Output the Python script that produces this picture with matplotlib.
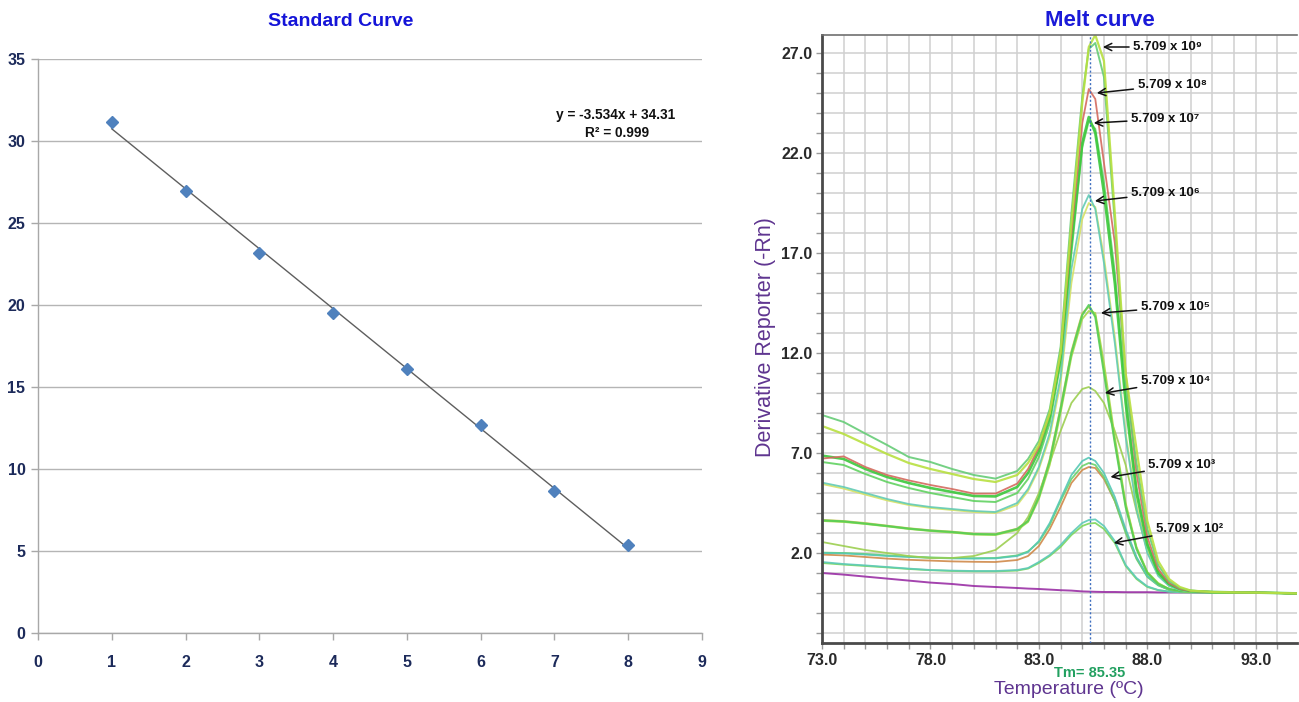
import matplotlib
matplotlib.use("Agg")
import matplotlib.pyplot as plt
from matplotlib.ticker import MultipleLocator, FixedLocator, FormatStrFormatter
import numpy as np

# ---------------- Standard curve data ----------------
std_x = [1, 2, 3, 4, 5, 6, 7, 8]
std_ct = [31.15, 26.95, 23.2, 19.5, 16.1, 12.7, 8.65, 5.35]
std_eq = "y = -3.534x + 34.31"
std_r2 = "R² = 0.999"

# ---------------- Melt curve data ----------------
temps = [73, 74, 75, 76, 77, 78, 79, 80, 81, 82, 82.5, 83, 83.5, 84, 84.5, 85, 85.3, 85.6,
         86, 86.5, 87, 87.5, 88, 88.5, 89, 89.5, 90, 91, 92, 93, 94, 94.9]

melt_1e9_a = [8.9, 8.55, 7.97, 7.4, 6.8, 6.55, 6.2, 5.9, 5.72, 6.1, 6.7, 7.6, 9.2, 12.3, 19.0, 24.8, 27.2, 27.5,
              25.8, 18.5, 10.5, 6.5, 3.2, 1.4, 0.6, 0.25, 0.12, 0.05, 0.03, 0.02, 0.0, -0.02]
melt_1e9_b = [8.35, 7.95, 7.45, 6.95, 6.5, 6.2, 5.95, 5.7, 5.55, 5.9, 6.5, 7.4, 9.0, 12.0, 18.5, 24.5, 27.3, 27.9,
              26.6, 19.0, 11.0, 7.2, 3.6, 1.6, 0.7, 0.3, 0.12, 0.05, 0.03, 0.02, 0.0, -0.02]
melt_1e8 = [6.72, 6.83, 6.3, 5.9, 5.63, 5.4, 5.2, 4.97, 4.97, 5.47, 6.2, 7.3, 9.0, 12.0, 18.0, 23.5, 25.2, 24.7,
            21.5, 17.5, 11.0, 6.0, 2.8, 1.2, 0.5, 0.2, 0.1, 0.05, 0.03, 0.02, 0.0, -0.02]
melt_1e7_a = [6.87, 6.7, 6.2, 5.8, 5.5, 5.25, 5.05, 4.85, 4.83, 5.3, 6.0, 7.1, 8.8, 11.8, 17.5, 22.5, 23.8, 23.0,
              20.0, 15.5, 9.5, 5.0, 2.4, 1.0, 0.45, 0.2, 0.1, 0.05, 0.03, 0.02, 0.0, -0.02]
melt_1e7_b = [6.55, 6.4, 5.95, 5.55, 5.25, 5.0, 4.8, 4.6, 4.55, 5.0, 5.7, 6.8, 8.5, 11.5, 17.0, 22.3, 23.6, 23.2,
              20.5, 16.0, 10.0, 5.3, 2.5, 1.1, 0.45, 0.2, 0.1, 0.05, 0.03, 0.02, 0.0, -0.02]
melt_1e6_a = [5.52, 5.3, 5.0, 4.7, 4.45, 4.3, 4.2, 4.1, 4.05, 4.5, 5.2, 6.3, 8.0, 10.8, 16.2, 19.2, 19.9, 19.2,
              16.5, 12.5, 7.8, 4.2, 2.0, 0.85, 0.35, 0.15, 0.08, 0.04, 0.02, 0.01, 0.0, -0.02]
melt_1e6_b = [5.45, 5.22, 4.92, 4.63, 4.4, 4.25, 4.15, 4.05, 4.0, 4.4, 5.1, 6.2, 7.8, 10.5, 15.5, 18.7, 19.5, 19.3,
              16.8, 12.8, 8.0, 4.4, 2.1, 0.9, 0.38, 0.16, 0.08, 0.04, 0.02, 0.01, 0.0, -0.02]
melt_1e5_a = [3.63, 3.58, 3.47, 3.35, 3.22, 3.12, 3.05, 2.95, 2.93, 3.2, 3.6, 4.8, 6.6, 9.2, 12.0, 13.9, 14.4, 13.8,
              11.0, 7.5, 4.3, 2.2, 1.0, 0.45, 0.2, 0.1, 0.06, 0.04, 0.02, 0.01, 0.0, -0.02]
melt_1e5_b = [3.6, 3.55, 3.45, 3.33, 3.2, 3.1, 3.02, 2.92, 2.9, 3.15, 3.55, 4.7, 6.4, 9.0, 11.8, 13.7, 14.1, 14.0,
              11.5, 7.8, 4.5, 2.3, 1.05, 0.5, 0.2, 0.1, 0.06, 0.04, 0.02, 0.01, 0.0, -0.02]
melt_1e5_c = [3.66, 3.6, 3.5, 3.37, 3.24, 3.14, 3.07, 2.97, 2.95, 3.22, 3.62, 4.85, 6.7, 9.3, 12.1, 14.0, 14.3, 13.9,
              11.2, 7.6, 4.4, 2.25, 1.02, 0.46, 0.2, 0.1, 0.06, 0.04, 0.02, 0.01, 0.0, -0.02]
melt_1e4 = [2.55, 2.35, 2.15, 2.0, 1.85, 1.75, 1.75, 1.85, 2.15, 3.0, 3.8, 5.0, 6.5, 8.1, 9.5, 10.2, 10.3, 10.1,
            9.5, 8.1, 6.4, 4.1, 2.1, 1.0, 0.4, 0.15, 0.08, 0.04, 0.02, 0.01, 0.0, -0.02]
melt_1e3_a = [2.0, 1.98, 1.92, 1.85, 1.8, 1.76, 1.73, 1.72, 1.73, 1.85, 2.05, 2.6, 3.5, 4.7, 5.9, 6.6, 6.77, 6.6,
              6.0, 4.8, 3.2, 1.8, 0.85, 0.4, 0.17, 0.08, 0.05, 0.03, 0.02, 0.01, 0.0, -0.02]
melt_1e3_b = [1.92, 1.88, 1.8, 1.72, 1.66, 1.62, 1.58, 1.56, 1.55, 1.65, 1.85, 2.35, 3.2, 4.3, 5.5, 6.15, 6.3, 6.25,
              5.7, 4.6, 3.1, 1.75, 0.85, 0.4, 0.17, 0.08, 0.05, 0.03, 0.02, 0.01, 0.0, -0.02]
melt_1e3_c = [2.02, 2.0, 1.95, 1.88, 1.82, 1.78, 1.75, 1.74, 1.75, 1.88, 2.08, 2.55, 3.4, 4.6, 5.7, 6.35, 6.5, 6.4,
              5.8, 4.6, 3.0, 1.7, 0.8, 0.38, 0.16, 0.08, 0.05, 0.03, 0.02, 0.01, 0.0, -0.02]
melt_1e2_a = [1.55, 1.45, 1.38, 1.3, 1.22, 1.15, 1.12, 1.1, 1.1, 1.15, 1.25, 1.55, 1.9, 2.4, 3.0, 3.5, 3.65, 3.68,
              3.35, 2.6, 1.4, 0.75, 0.33, 0.15, 0.07, 0.04, 0.03, 0.02, 0.01, 0.0, 0.0, -0.02]
melt_1e2_b = [1.5, 1.42, 1.35, 1.28, 1.2, 1.14, 1.1, 1.08, 1.08, 1.12, 1.22, 1.5, 1.85, 2.3, 2.9, 3.35, 3.47, 3.5,
              3.2, 2.5, 1.35, 0.7, 0.3, 0.14, 0.07, 0.04, 0.03, 0.02, 0.01, 0.0, 0.0, -0.02]
melt_ntc = [1.0, 0.92, 0.82, 0.72, 0.62, 0.52, 0.45, 0.35, 0.3, 0.25, 0.22, 0.2, 0.17, 0.14, 0.12, 0.08, 0.07, 0.06,
            0.05, 0.05, 0.04, 0.04, 0.04, 0.03, 0.03, 0.03, 0.03, 0.02, 0.02, 0.01, 0.0, -0.02]

tm_value = 85.35
tm_label = "Tm= 85.35"
ann_labels = ["5.709 x 10⁹", "5.709 x 10⁸", "5.709 x 10⁷", "5.709 x 10⁶",
              "5.709 x 10⁵", "5.709 x 10⁴", "5.709 x 10³", "5.709 x 10²"]

# series list: (values, colour, linewidth)
series = [
    (melt_ntc, "#9a2fa5", 1.4),
    (melt_1e2_b, "#7dd65a", 1.3),
    (melt_1e2_a, "#5ccab8", 1.3),
    (melt_1e3_b, "#d08a4a", 1.3),
    (melt_1e3_c, "#6ad36a", 1.3),
    (melt_1e3_a, "#55c8b5", 1.3),
    (melt_1e4, "#9ccf50", 1.3),
    (melt_1e5_c, "#d2c45c", 1.3),
    (melt_1e5_b, "#a8d848", 1.3),
    (melt_1e5_a, "#55cf55", 1.5),
    (melt_1e6_b, "#d5e265", 1.3),
    (melt_1e6_a, "#62cbb5", 1.3),
    (melt_1e7_b, "#62d262", 1.4),
    (melt_1e7_a, "#3cc83c", 1.9),
    (melt_1e8, "#d46a5e", 1.3),
    (melt_1e9_a, "#66cc77", 1.4),
    (melt_1e9_b, "#b8e040", 1.6),
]

W, H = 1299, 702
fig = plt.figure(figsize=(W / 100, H / 100), dpi=100)

narrow = ["Liberation Sans Narrow", "Liberation Sans", "DejaVu Sans"]
arial = ["Liberation Sans", "DejaVu Sans"]


def fx(px):
    return px / W


def fy(py):
    return 1 - py / H


# ---------------- Left: standard curve ----------------
axL = fig.add_axes([fx(38), fy(633), fx(702) - fx(38), fy(59) - fy(633)])
axL.set_xlim(0, 9)
axL.set_ylim(0, 35)
axL.yaxis.set_major_locator(MultipleLocator(5))
axL.xaxis.set_major_locator(MultipleLocator(1))
axL.grid(axis="y", color="#b5b5b5", lw=1.0)
axL.set_axisbelow(True)
for s in ["top", "right"]:
    axL.spines[s].set_visible(False)
for s in ["left", "bottom"]:
    axL.spines[s].set_color("#a8a8a8")
    axL.spines[s].set_linewidth(1.0)
axL.tick_params(axis="both", colors="#a8a8a8", labelcolor="#1c2a5a", length=5, width=1.0)
axL.tick_params(axis="x", pad=11)
axL.tick_params(axis="y", pad=4)
for lab in axL.get_xticklabels() + axL.get_yticklabels():
    lab.set_fontfamily(narrow)
    lab.set_fontweight("bold")
    lab.set_fontsize(11.5)

coef = np.polyfit(std_x, std_ct, 1)
fit_x = np.array([std_x[0], std_x[-1]])
axL.plot(fit_x, np.polyval(coef, fit_x), color="#5e5e5e", lw=1.0, zorder=2)
axL.plot(std_x, std_ct, linestyle="none", marker="D", ms=6.5, color="#4f81bd",
         markeredgecolor="#4f81bd", zorder=3)

fig.text(fx(341), fy(22), "Standard Curve", color="#1414d8", fontsize=14, fontweight="bold",
         family=narrow, ha="center", va="center")
fig.text(fx(616), fy(115), std_eq, color="#111111", fontsize=9.8, fontweight="bold",
         family=narrow, ha="center", va="center")
fig.text(fx(617), fy(133), std_r2, color="#111111", fontsize=9.8, fontweight="bold",
         family=narrow, ha="center", va="center")

# ---------------- Right: melt curve ----------------
axR = fig.add_axes([fx(822), fy(643), fx(1297) - fx(822), fy(35) - fy(643)])
axR.set_xlim(73, 94.9)
axR.set_ylim(-2.5, 27.9)
axR.xaxis.set_major_locator(FixedLocator([73, 78, 83, 88, 93]))
axR.xaxis.set_minor_locator(MultipleLocator(1))
axR.yaxis.set_major_locator(FixedLocator([2, 7, 12, 17, 22, 27]))
axR.yaxis.set_minor_locator(MultipleLocator(1))
axR.grid(which="both", color="#d0d0d0", lw=1.1)
axR.set_axisbelow(True)
axR.spines["right"].set_visible(False)
axR.spines["top"].set_color("#707070")
axR.spines["top"].set_linewidth(1.2)
for s in ["left", "bottom"]:
    axR.spines[s].set_color("#4a4a4a")
    axR.spines[s].set_linewidth(2.0)
axR.tick_params(which="both", colors="#9a9a9a", labelcolor="#2a2a2a", length=4, width=1)
axR.tick_params(axis="y", pad=3)
axR.tick_params(axis="x", pad=3)
axR.xaxis.set_major_formatter(FormatStrFormatter("%.1f"))
axR.yaxis.set_major_formatter(FormatStrFormatter("%.1f"))
for lab in axR.get_xticklabels() + axR.get_yticklabels():
    lab.set_fontfamily(arial)
    lab.set_fontweight("bold")
    lab.set_fontsize(11.5)

for vals, col, lw in series:
    axR.plot(temps, vals, color=col, lw=lw, alpha=0.9, solid_joinstyle="round")

axR.axvline(tm_value, color="#3f6fbf", lw=1.0, linestyle=(0, (1.5, 1.5)), zorder=5)

# annotations: (tip T, tip value, text T, text value)
ann_pos = [
    (85.95, 27.3, 87.35, 27.3),
    (85.67, 25.0, 87.55, 25.4),
    (85.53, 23.5, 87.25, 23.7),
    (85.58, 19.6, 87.25, 20.0),
    (85.86, 14.0, 87.7, 14.3),
    (86.04, 10.0, 87.7, 10.6),
    (86.3, 5.8, 88.05, 6.4),
    (86.45, 2.5, 88.4, 3.2),
]
for lab, (tx, ty, sx, sy) in zip(ann_labels, ann_pos):
    axR.annotate(lab, xy=(tx, ty), xytext=(sx, sy), fontsize=9.5, fontweight="bold",
                 family=arial, color="#111111", ha="left", va="center",
                 arrowprops=dict(arrowstyle="->", color="#111111", lw=1.1,
                                 shrinkA=1, shrinkB=0, mutation_scale=13), zorder=6)

fig.text(fx(1100), fy(21), "Melt curve", color="#1a1ad8", fontsize=16, fontweight="bold",
         family=arial, ha="center", va="center")
fig.text(fx(766), fy(337), "Derivative Reporter (-Rn)", color="#5f3590", fontsize=15.5,
         family=arial, rotation=90, ha="center", va="center")
axR.text(tm_value, -0.05, tm_label, transform=axR.get_xaxis_transform(), color="#22a060",
         fontsize=10.5, fontweight="bold", family=narrow, ha="center", va="center")
fig.text(fx(1069), fy(690), "Temperature (ºC)", color="#5f3590", fontsize=14,
         family=arial, ha="center", va="center")

fig.savefig("out.png", dpi=100)
